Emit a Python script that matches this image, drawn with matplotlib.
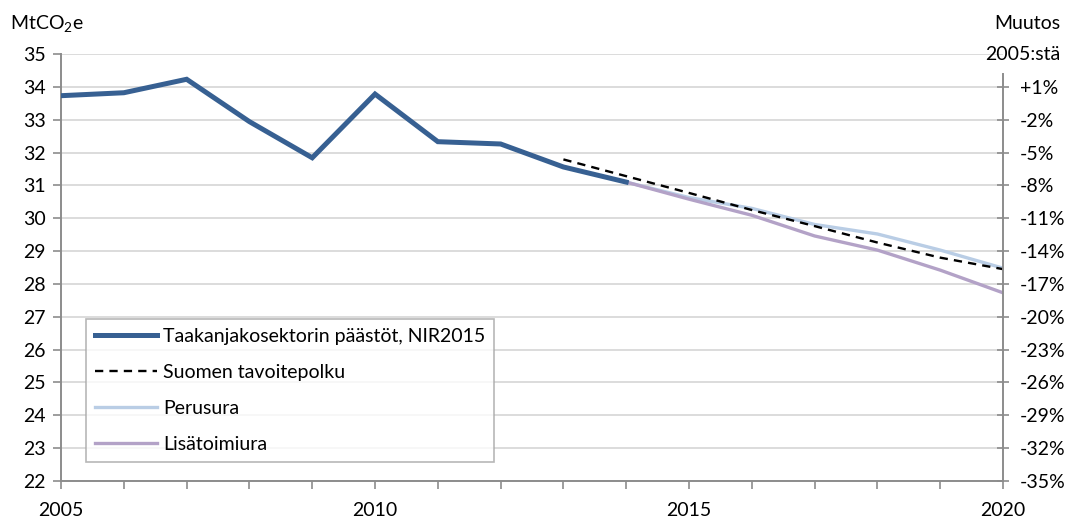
import numpy as np
import matplotlib
matplotlib.use("Agg")
from matplotlib import pyplot as plt
from matplotlib.ticker import MultipleLocator, FixedLocator

plt.rcParams['font.family'] = ['Lato', 'DejaVu Sans']
plt.rcParams['mathtext.fontset'] = 'custom'
plt.rcParams['mathtext.rm'] = 'Lato'
plt.rcParams['mathtext.it'] = 'Lato'

# emissions, MtCO2e
hist_years = [2005, 2006, 2007, 2008, 2009, 2010, 2011, 2012, 2013, 2014]
hist_vals = [33.73, 33.82, 34.23, 32.94, 31.84, 33.78, 32.33, 32.26, 31.56, 31.10]

target_years = [2013, 2014, 2015, 2016, 2017, 2018, 2019, 2020]
target_vals = [31.79, 31.28, 30.77, 30.25, 29.76, 29.26, 28.80, 28.45]

proj_years = [2014, 2015, 2016, 2017, 2018, 2019, 2020]
base_vals = [31.10, 30.63, 30.30, 29.81, 29.52, 29.03, 28.48]
extra_vals = [31.10, 30.58, 30.09, 29.46, 29.03, 28.42, 27.73]

labels = ['Taakanjakosektorin päästöt, NIR2015', 'Suomen tavoitepolku',
          'Perusura', 'Lisätoimiura']

base_2005 = hist_vals[0]
axis_grey = '#8c8c8c'
fs = 14

fig = plt.figure(figsize=(10.71, 5.18), dpi=100)
ax = fig.add_axes([0.057, 0.0714, 0.8795, 0.8244])

ax.plot(hist_years, hist_vals, color='#376092', lw=3.6, label=labels[0],
        solid_joinstyle='miter', zorder=4)
ax.plot(target_years, target_vals, color='black', lw=1.7, dashes=(3.5, 2.6),
        label=labels[1], zorder=5)
ax.plot(proj_years, base_vals, color='#b9cde5', lw=2.4, label=labels[2], zorder=3)
ax.plot(proj_years, extra_vals, color='#b3a2c7', lw=2.4, label=labels[3], zorder=3)

ax.set_xlim(2005, 2020)
ax.set_ylim(22, 35)
ax.xaxis.set_major_locator(MultipleLocator(5))
ax.xaxis.set_minor_locator(MultipleLocator(1))
ax.yaxis.set_major_locator(MultipleLocator(1))
ax.grid(axis='y', color='#d9d9d9', lw=1.3, zorder=0)
ax.set_axisbelow(True)

for side in ['top', 'right']:
    ax.spines[side].set_visible(False)
for side in ['left', 'bottom']:
    ax.spines[side].set_color(axis_grey)
    ax.spines[side].set_linewidth(1.4)

ax.tick_params(axis='both', which='both', length=6, width=1.2, color=axis_grey,
               labelsize=fs)
ax.tick_params(axis='x', which='major', pad=9)
ax.tick_params(axis='y', pad=5)

# right axis: change from 2005 level
ax2 = ax.twinx()
ax2.set_ylim(ax.get_ylim())
right_ticks = list(range(22, 35))
ax2.yaxis.set_major_locator(FixedLocator(right_ticks))
right_labels = []
for v in right_ticks:
    p = int(round((v / base_2005 - 1) * 100))
    right_labels.append(('+%d%%' % p) if p > 0 else ('%d%%' % p))
ax2.set_yticklabels(right_labels)
ax2.tick_params(axis='y', direction='inout', length=8, width=1.2, color=axis_grey,
                labelsize=fs, pad=8)
for side in ['top', 'left', 'bottom']:
    ax2.spines[side].set_visible(False)
ax2.spines['right'].set_color(axis_grey)
ax2.spines['right'].set_linewidth(1.4)
ax2.spines['right'].set_bounds(22, base_2005 * 1.02)

leg = ax.legend(loc='lower left', bbox_to_anchor=(0.027, 0.045), fontsize=fs,
                frameon=True, fancybox=False, edgecolor='#a6a6a6',
                handlelength=3.2, handletextpad=0.3, labelspacing=0.98,
                borderpad=0.45, borderaxespad=0)
leg.get_frame().set_linewidth(1.2)
leg.set_zorder(10)

fig.text(0.009, 0.955, 'MtCO$_\\mathregular{2}$e', fontsize=fs, va='center')
fig.text(0.99, 0.955, 'Muutos', fontsize=fs, va='center', ha='right')
fig.text(0.99, 0.895, '2005:stä', fontsize=fs, va='center', ha='right')

plt.savefig('out.png', dpi=100)
